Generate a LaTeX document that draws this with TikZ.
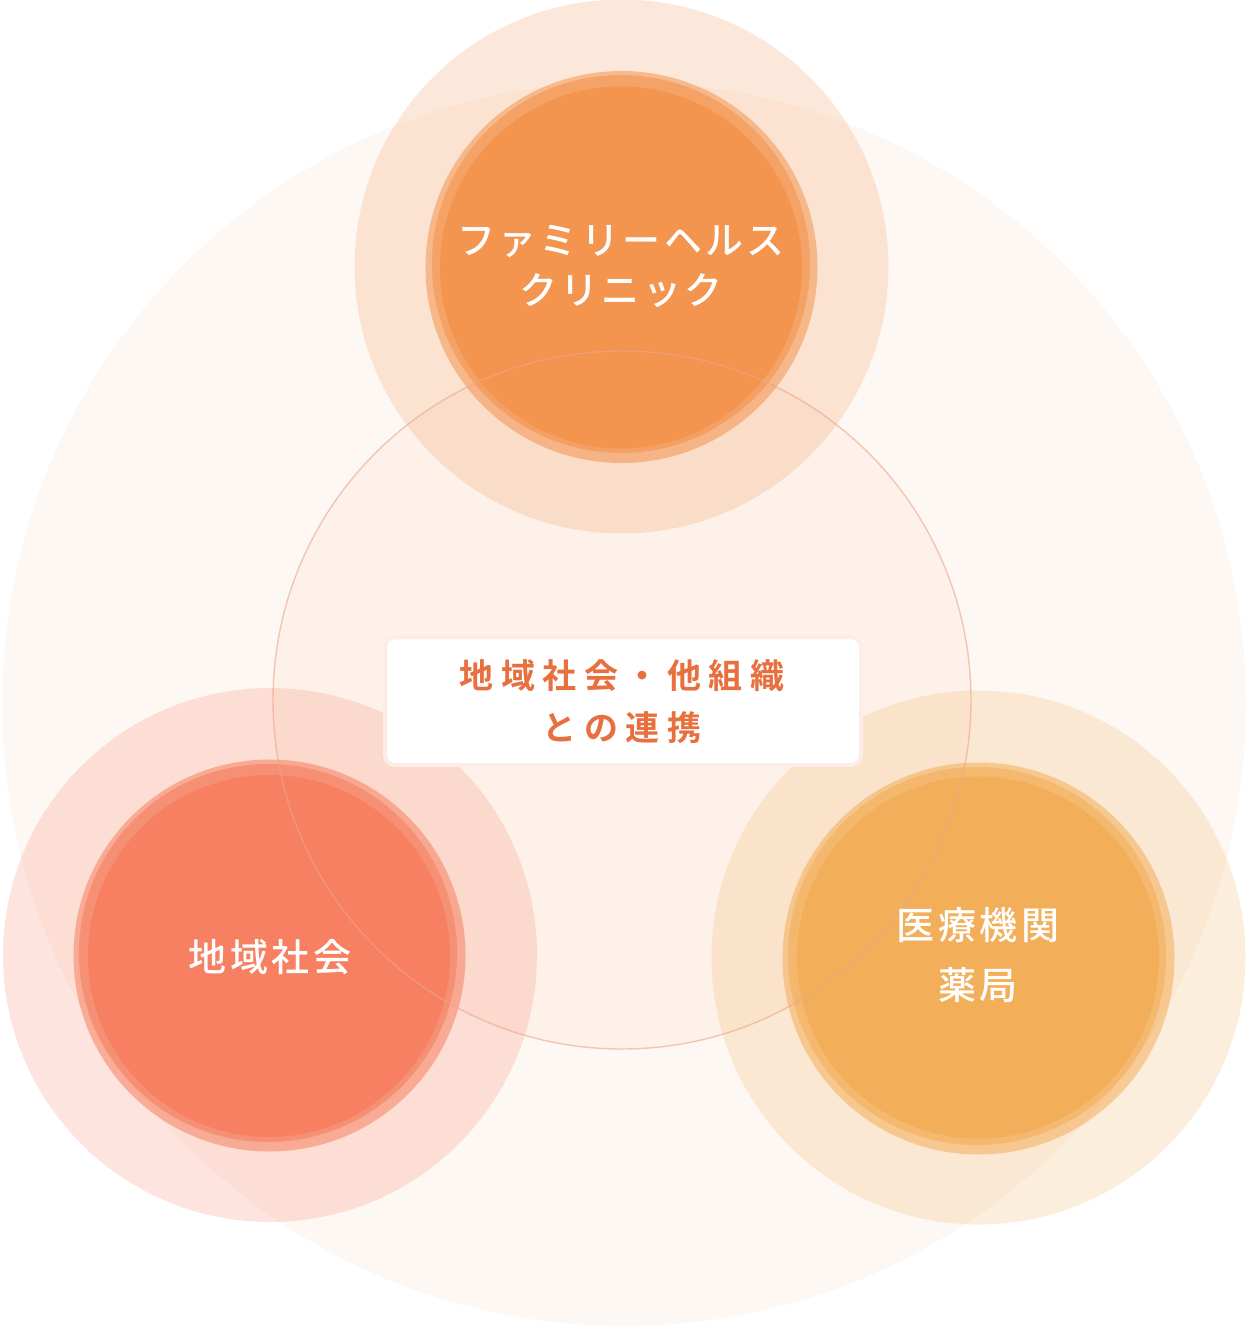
\documentclass[tikz,border=0pt]{standalone}
\usepackage{fontspec}
\newfontfamily\jp[LetterSpace=9]{Noto Sans CJK JP Medium}
\newfontfamily\jpb[LetterSpace=22]{Noto Sans CJK JP Bold}
\definecolor{bgbig}{HTML}{FEF8F4}
\definecolor{midfill}{HTML}{FDF0E8}
\definecolor{midline}{HTML}{EEA58C}
\definecolor{topmain}{HTML}{F3944F}
\definecolor{leftmain}{HTML}{F68061}
\definecolor{rightmain}{HTML}{F3AE5A}
\definecolor{labeltxt}{HTML}{E8703F}
\definecolor{boxborder}{HTML}{FCEDE7}
\tikzset{
  halo/.style={fill=#1, fill opacity=0.21, draw=none},
  ringa/.style={fill=#1, fill opacity=0.55, draw=none},
  ringb/.style={fill=#1, fill opacity=0.6, draw=none},
  core/.style={fill=#1, draw=none},
  wtxt/.style={text=white, align=center, font=\jp\fontsize{38}{50}\selectfont, inner sep=0pt},
  ltxt/.style={text=labeltxt, align=center, font=\jpb\fontsize{34}{52}\selectfont, inner sep=0pt},
}
\begin{document}
\begin{tikzpicture}[x=1pt,y=-1pt]
\useasboundingbox (0,0) rectangle (1248,1326);
% big background circle
\fill[bgbig] (624,704) circle[radius=622pt];
% middle circle fill
\fill[midfill, fill opacity=0.8] (622,700) circle[radius=349pt];
% halos
\fill[halo=topmain] (621.5,266.5) circle[radius=267pt];
\fill[halo=leftmain] (270,955) circle[radius=267pt];
\fill[halo=rightmain] (978.5,957.5) circle[radius=267pt];
% top group
\fill[ringa=topmain] (621.5,267) circle[radius=196pt];
\fill[ringb=topmain] (621,264) circle[radius=189pt];
\fill[core=topmain] (621,267.5) circle[radius=181pt];
% left group
\fill[ringa=leftmain] (269.5,955.5) circle[radius=196pt];
\fill[ringb=leftmain] (268,953) circle[radius=189pt];
\fill[core=leftmain] (269,956) circle[radius=181pt];
% right group
\fill[ringa=rightmain] (978.5,958.5) circle[radius=196pt];
\fill[ringb=rightmain] (977,956) circle[radius=189pt];
\fill[core=rightmain] (978,957.5) circle[radius=181pt];
% middle circle stroke
\draw[midline, line width=1.4pt, draw opacity=0.6] (622,700) circle[radius=349pt];
% label box
\node[draw=boxborder, line width=4pt, fill=white, rounded corners=10pt,
      minimum width=476pt, minimum height=128pt, inner sep=0pt] (box) at (623,701) {};
\node[ltxt] (lab) at (622,702) {地域社会・他組織\\との連携};
% circle labels
\node[wtxt] (top) at (621,266) {ファミリーヘルス\\クリニック};
\node[wtxt] (left) at (270,957) {地域社会};
\node[wtxt, font=\jp\fontsize{38}{60}\selectfont] (right) at (978,955) {医療機関\\薬局};
\end{tikzpicture}
\end{document}
